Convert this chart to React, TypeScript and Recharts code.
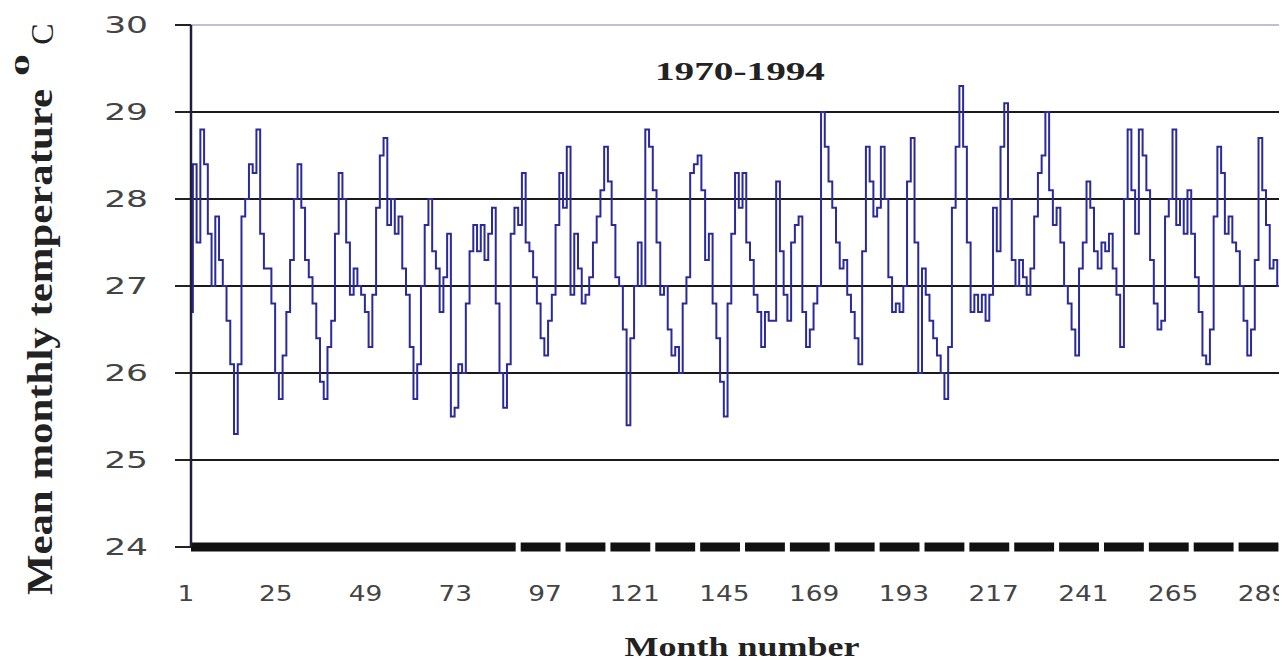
import React from 'react';
import { LineChart, Line, XAxis, YAxis, ReferenceLine } from 'recharts';

// Mean monthly temperature (°C), one array per year, 1970-1994 (visible part)
const y1970 = [26.7, 28.4, 27.5, 28.8, 28.4, 27.6, 27.0, 27.8, 27.3, 27.0, 26.6, 26.1];
const y1971 = [25.3, 26.1, 27.8, 28.0, 28.4, 28.3, 28.8, 27.6, 27.2, 27.2, 26.8, 26.0];
const y1972 = [25.7, 26.2, 26.7, 27.3, 28.0, 28.4, 27.9, 27.3, 27.1, 26.8, 26.4, 25.9];
const y1973 = [25.7, 26.3, 26.6, 27.6, 28.3, 28.0, 27.5, 26.9, 27.2, 27.0, 26.9, 26.7];
const y1974 = [26.3, 26.9, 27.9, 28.5, 28.7, 27.7, 28.0, 27.6, 27.8, 27.2, 26.9, 26.3];
const y1975 = [25.7, 26.1, 27.0, 27.7, 28.0, 27.4, 27.2, 26.7, 27.1, 27.6, 25.5, 25.6];
const y1976 = [26.1, 26.0, 26.8, 27.4, 27.7, 27.4, 27.7, 27.3, 27.6, 27.9, 26.8, 26.0];
const y1977 = [25.6, 26.1, 27.6, 27.9, 27.7, 28.3, 27.5, 27.4, 27.1, 26.8, 26.4, 26.2];
const y1978 = [26.6, 26.9, 27.7, 28.3, 27.9, 28.6, 26.9, 27.6, 27.2, 26.8, 26.9, 27.1];
const y1979 = [27.5, 27.8, 28.1, 28.6, 28.2, 27.7, 27.1, 27.0, 26.5, 25.4, 26.4, 27.0];
const y1980 = [27.5, 27.0, 28.8, 28.6, 28.1, 27.5, 26.9, 27.0, 26.5, 26.2, 26.3, 26.0];
const y1981 = [26.8, 27.1, 28.3, 28.4, 28.5, 28.1, 27.3, 27.6, 26.8, 26.4, 25.9, 25.5];
const y1982 = [26.8, 27.6, 28.3, 27.9, 28.3, 27.5, 27.3, 26.9, 26.7, 26.3, 26.7, 26.6];
const y1983 = [26.6, 28.2, 27.4, 26.9, 26.6, 27.5, 27.7, 27.8, 26.7, 26.3, 26.5, 26.8];
const y1984 = [27.0, 29.0, 28.6, 28.2, 27.9, 27.5, 27.2, 27.3, 26.9, 26.7, 26.4, 26.1];
const y1985 = [27.4, 28.6, 28.2, 27.8, 27.9, 28.6, 28.0, 27.1, 26.7, 26.8, 26.7, 27.0];
const y1986 = [28.2, 28.7, 27.5, 26.0, 27.2, 26.9, 26.6, 26.4, 26.2, 26.0, 25.7, 26.3];
const y1987 = [27.9, 28.6, 29.3, 28.6, 27.5, 26.7, 26.9, 26.7, 26.9, 26.6, 26.9, 27.9];
const y1988 = [27.4, 28.6, 29.1, 28.0, 27.3, 27.0, 27.3, 27.1, 26.9, 27.2, 27.8, 28.3];
const y1989 = [28.5, 29.0, 28.1, 27.7, 27.9, 27.5, 27.0, 26.8, 26.5, 26.2, 27.2, 27.5];
const y1990 = [28.2, 27.9, 27.4, 27.2, 27.5, 27.4, 27.6, 27.2, 26.9, 26.3, 28.0, 28.8];
const y1991 = [28.1, 27.6, 28.8, 28.5, 28.1, 27.3, 26.8, 26.5, 26.6, 27.8, 28.0, 28.8];
const y1992 = [27.7, 28.0, 27.6, 28.1, 27.6, 27.1, 26.7, 26.2, 26.1, 26.5, 27.8, 28.6];
const y1993 = [28.3, 27.6, 27.8, 27.5, 27.4, 27.0, 26.6, 26.2, 26.5, 27.3, 28.7, 28.1];
const y1994 = [27.7, 27.2, 27.3, 27.0, 26.8, 26.6];

const years = [
  y1970, y1971, y1972, y1973, y1974, y1975, y1976, y1977, y1978, y1979,
  y1980, y1981, y1982, y1983, y1984, y1985, y1986, y1987, y1988, y1989,
  y1990, y1991, y1992, y1993, y1994,
];

const xLabelTicks = [1, 25, 49, 73, 97, 121, 145, 169, 193, 217, 241, 265, 289];
const xGapTicks = [88.5, 100.5, 112.5, 124.5, 136.5, 148.5, 160.5, 172.5, 184.5, 196.5, 208.5, 220.5, 232.5, 244.5, 256.5, 268.5, 280.5, 292.5];
const yTicks = [24, 25, 26, 27, 28, 29, 30];
const gridValues = [25, 26, 27, 28, 29];

const data = years.flat().map((t, i) => ({ month: i + 1, temp: t }));
const allXTicks = [...xLabelTicks, ...xGapTicks].sort((a, b) => a - b);

const tickFont = '"DejaVu Sans", sans-serif';
const serif = '"Liberation Serif", "Times New Roman", serif';

const XTick = (props: any) => {
  const { x, y, payload } = props;
  const v = payload.value;
  if (xGapTicks.includes(v)) {
    return <rect x={x - 2.5} y={y - 6} width={5} height={12} fill="#ffffff" />;
  }
  return (
    <g transform={`translate(${x - 5},${y + 54})`}>
      <text transform="scale(1.2,1)" textAnchor="middle" fontFamily={tickFont} fontSize={22} fill="#444444">
        {v}
      </text>
    </g>
  );
};

const YTick = (props: any) => {
  const { x, y, payload } = props;
  return (
    <g transform={`translate(${x - 27},${y})`}>
      <text transform="scale(1.5,1)" textAnchor="end" dy="0.36em" fontFamily={tickFont} fontSize={23} fill="#444444">
        {payload.value}
      </text>
    </g>
  );
};

export default function App() {
  const W = 1330;
  const H = 656;
  return (
    <div style={{ position: 'relative', width: 1279, height: H, overflow: 'hidden' }}>
      <LineChart width={W} height={H} data={data} margin={{ top: 17, right: 29, bottom: 57, left: 0 }}>
        <XAxis
          dataKey="month"
          type="number"
          domain={[1, 300]}
          ticks={allXTicks}
          interval={0}
          tick={<XTick />}
          tickLine={false}
          tickSize={0}
          tickMargin={0}
          height={60}
          axisLine={{ stroke: '#111111', strokeWidth: 9 }}
        />
        <YAxis
          type="number"
          domain={[24, 30]}
          ticks={yTicks}
          interval={0}
          width={183}
          tick={<YTick />}
          tickSize={16}
          tickMargin={0}
          tickLine={{ stroke: '#222222', strokeWidth: 2 }}
          axisLine={{ stroke: '#1e1e3c', strokeWidth: 2.5 }}
        />
        {gridValues.map((v) => (
          <ReferenceLine key={v} y={v} stroke="#1a1a1a" strokeWidth={2} />
        ))}
        <ReferenceLine y={30} stroke="#8080b0" strokeWidth={1.2} />
        <Line
          type="step"
          dataKey="temp"
          stroke="#2a2a9c"
          strokeWidth={2}
          dot={false}
          isAnimationActive={false}
        />
      </LineChart>
      <svg width={1279} height={H} style={{ position: 'absolute', left: 0, top: 0, pointerEvents: 'none' }}>
        <text x={732} y={72} textAnchor="middle" fontFamily={serif} fontWeight="bold" fontSize={26} fill="#222" textLength={170} lengthAdjust="spacingAndGlyphs">
          1970-1994
        </text>
        <text x={734} y={648} textAnchor="middle" fontFamily={serif} fontWeight="bold" fontSize={28} fill="#222" textLength={235} lengthAdjust="spacingAndGlyphs">
          Month number
        </text>
        <text transform="translate(44,334) rotate(-90)" textAnchor="middle" fontFamily={serif} fontWeight="bold" fontSize={36} fill="#222" textLength={506} lengthAdjust="spacingAndGlyphs">
          Mean monthly temperature
        </text>
        <text transform="translate(21,57) rotate(-90)" textAnchor="middle" fontFamily={serif} fontWeight="bold" fontSize={20} fill="#222" textLength={22} lengthAdjust="spacingAndGlyphs">
          0
        </text>
        <text transform="translate(45,26) rotate(-90)" textAnchor="middle" fontFamily={serif} fontSize={32} fill="#222">
          C
        </text>
      </svg>
    </div>
  );
}
